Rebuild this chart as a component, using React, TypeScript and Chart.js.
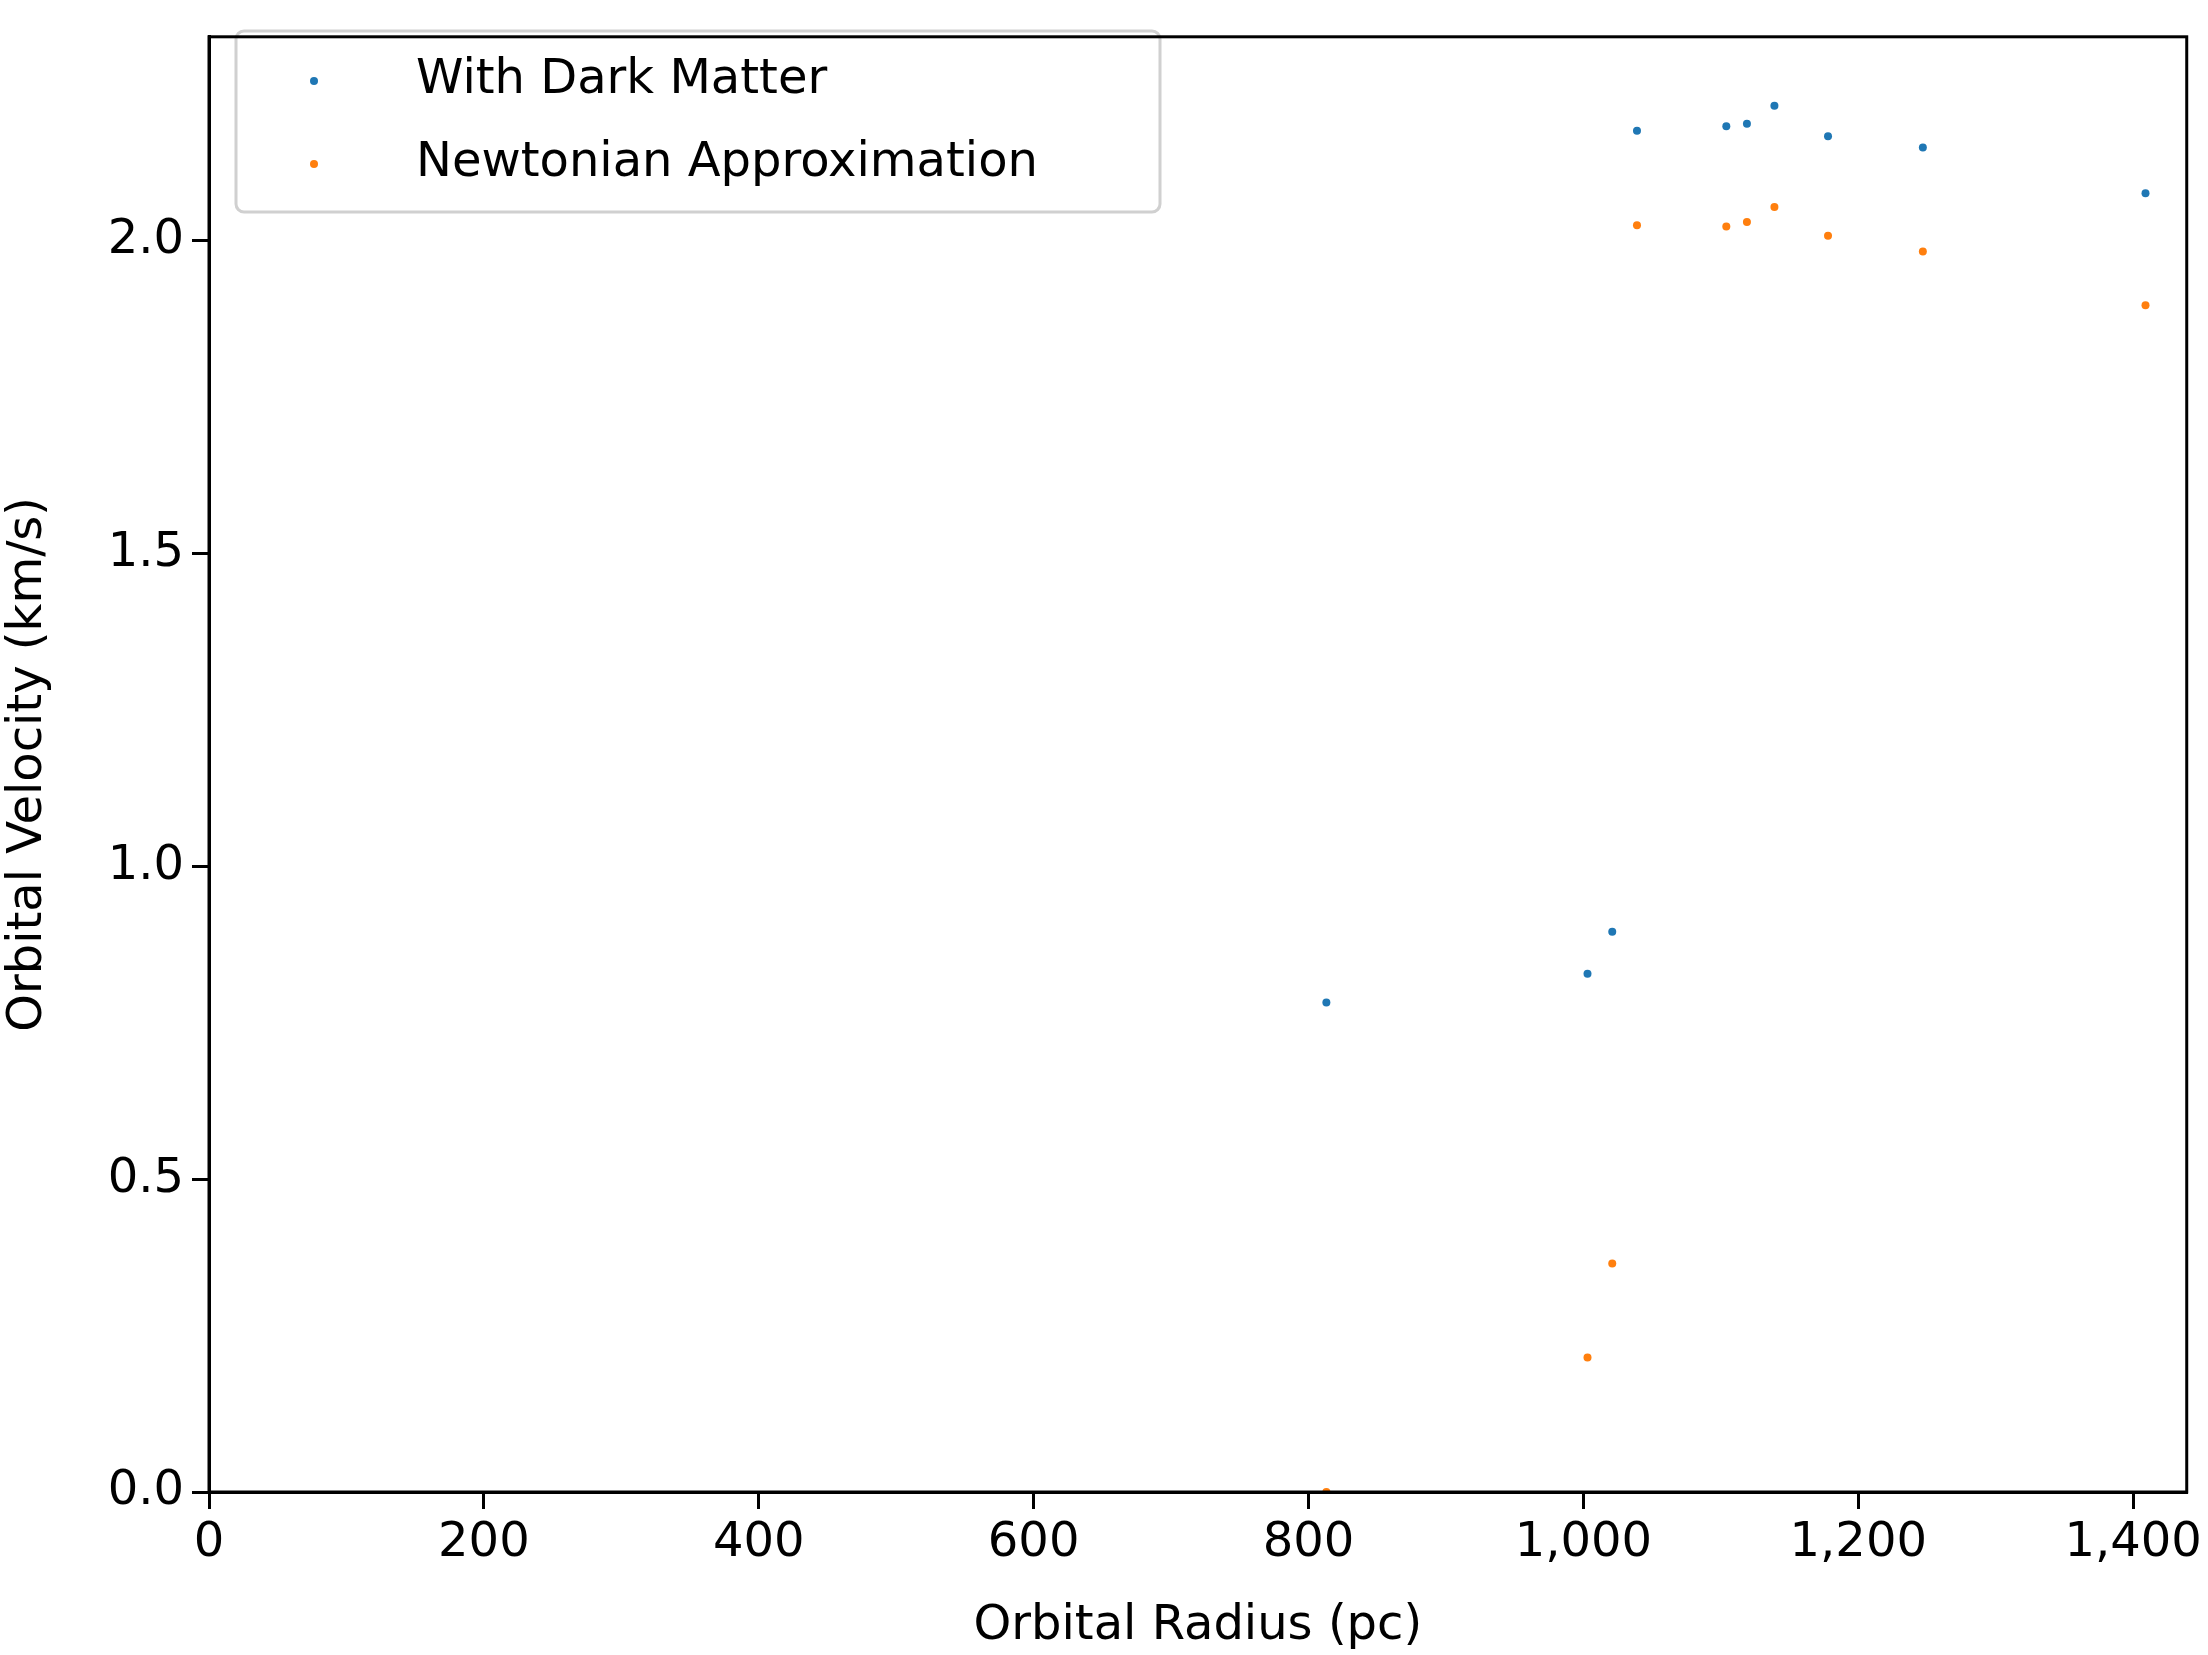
import { useEffect, useRef } from 'react';
import { Chart, registerables } from 'chart.js';

Chart.register(...registerables);

const radius = [813, 1003, 1021, 1039, 1104, 1119, 1139, 1178, 1247, 1409];
const withDarkMatter = [0.782, 0.828, 0.895, 2.175, 2.182, 2.186, 2.215, 2.166, 2.148, 2.075];
const newtonian = [0.0, 0.215, 0.365, 2.024, 2.022, 2.029, 2.053, 2.007, 1.982, 1.896];
const seriesNames = ['With Dark Matter', 'Newtonian Approximation'];
const colors = ['#1f77b4', '#ff7f0e'];

const FONT = '"DejaVu Sans", sans-serif';

const legendPlugin = {
  id: 'innerLegend',
  afterDraw(chart: Chart) {
    const ctx = chart.ctx;
    const x0 = 236, y0 = 31, w = 924, h = 181;
    ctx.save();
    ctx.fillStyle = 'rgba(255,255,255,0.8)';
    ctx.strokeStyle = '#d0d0d0';
    ctx.lineWidth = 3;
    ctx.beginPath();
    ctx.roundRect(x0, y0, w, h, 8);
    ctx.fill();
    ctx.stroke();
    ctx.font = `48px ${FONT}`;
    ctx.textBaseline = 'middle';
    seriesNames.forEach((name, i) => {
      const y = 81 + i * 83;
      ctx.fillStyle = colors[i];
      ctx.beginPath();
      ctx.arc(314, y, 4, 0, Math.PI * 2);
      ctx.fill();
      ctx.fillStyle = '#000';
      ctx.fillText(name, 416, y);
    });
    ctx.restore();
  },
};

export default function App() {
  const ref = useRef<HTMLCanvasElement>(null);

  useEffect(() => {
    if (!ref.current) return;
    const chart = new Chart(ref.current, {
      type: 'scatter',
      data: {
        datasets: [
          { label: seriesNames[0], data: radius.map((r, i) => ({ x: r, y: withDarkMatter[i] })), backgroundColor: colors[0], borderWidth: 0, pointRadius: 4 },
          { label: seriesNames[1], data: radius.map((r, i) => ({ x: r, y: newtonian[i] })), backgroundColor: colors[1], borderWidth: 0, pointRadius: 4 },
        ],
      },
      options: {
        animation: false,
        responsive: false,
        layout: { padding: { top: 3, right: 6, left: 0, bottom: 0 } },
        plugins: { legend: { display: false }, tooltip: { enabled: false } },
        scales: {
          x: {
            type: 'linear',
            min: 0,
            max: 1439,
            afterFit: (s: any) => { s.height = 163; },
            afterBuildTicks: (s: any) => { s.ticks = [0, 200, 400, 600, 800, 1000, 1200, 1400].map(v => ({ value: v })); },
            ticks: { color: '#000', font: { family: FONT, size: 48 }, maxRotation: 0, padding: 6 },
            grid: { drawOnChartArea: false, color: '#000', lineWidth: 3, tickLength: 17, tickWidth: 3 },
            border: { color: '#000', width: 3 },
            title: { display: true, text: 'Orbital Radius (pc)', color: '#000', font: { family: FONT, size: 48 }, padding: { top: 4, bottom: 0 } },
          },
          y: {
            min: 0,
            max: 2.325,
            afterFit: (s: any) => { s.width = 209; },
            afterBuildTicks: (s: any) => { s.ticks = [0, 0.5, 1, 1.5, 2].map(v => ({ value: v })); },
            ticks: { color: '#000', font: { family: FONT, size: 48 }, padding: 8, callback: (v: any) => Number(v).toFixed(1) },
            grid: { drawOnChartArea: false, color: '#000', lineWidth: 3, tickLength: 17, tickWidth: 3 },
            border: { color: '#000', width: 3 },
            title: { display: true, text: 'Orbital Velocity (km/s)', color: '#000', font: { family: FONT, size: 48 }, padding: { top: 0, bottom: 4 } },
          },
        },
      },
      plugins: [
        legendPlugin,
        {
          id: 'frame',
          afterDraw(c: Chart) {
            const { left, right, top, bottom } = c.chartArea;
            c.ctx.save();
            c.ctx.strokeStyle = '#000';
            c.ctx.lineWidth = 3;
            c.ctx.strokeRect(left, top, right - left, bottom - top);
            c.ctx.restore();
          },
        },
      ],
    });
    return () => chart.destroy();
  }, []);

  return (
    <div style={{ position: 'absolute', left: 0, top: 0, width: 2208, height: 1655, background: '#fff' }}>
      <canvas ref={ref} width={2208} height={1655} style={{ width: 2208, height: 1655 }} />
    </div>
  );
}
